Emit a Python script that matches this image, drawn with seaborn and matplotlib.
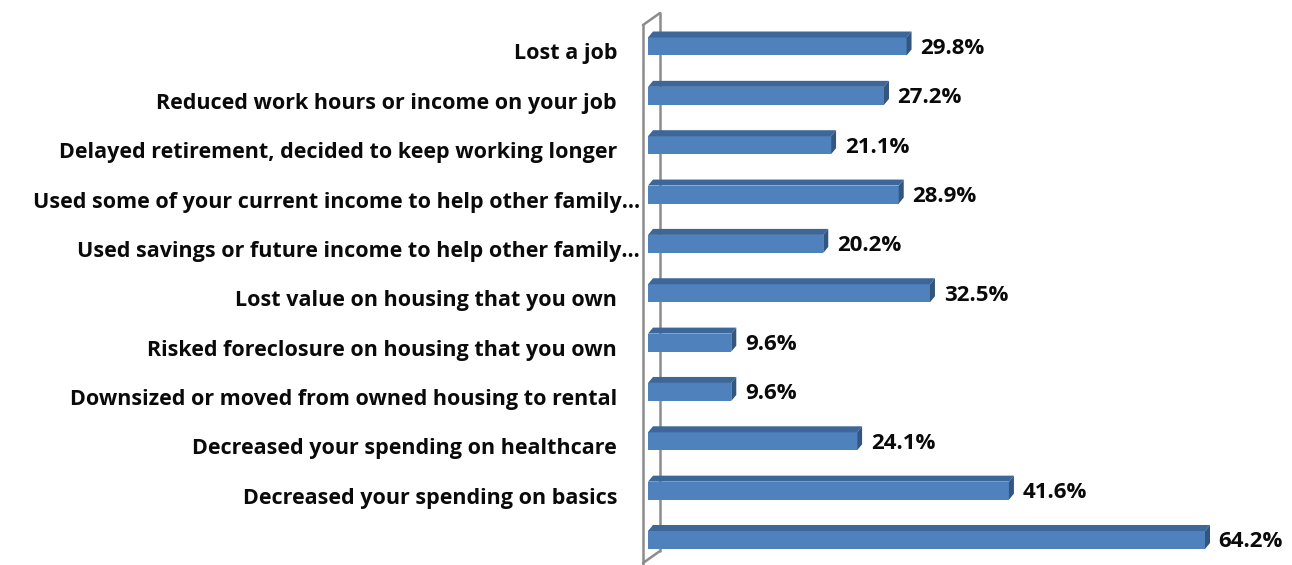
import matplotlib
matplotlib.use("Agg")
import matplotlib.pyplot as plt
import matplotlib.transforms as mtransforms
from matplotlib.patches import Polygon
from matplotlib.lines import Line2D
import seaborn as sns
import pandas as pd

# Survey responses: share of respondents reporting each financial impact
categories = [
    "Lost a job",
    "Reduced work hours or income on your job",
    "Delayed retirement, decided to keep working longer",
    "Used some of your current income to help other family\u2026",
    "Used savings or future income to help other family\u2026",
    "Lost value on housing that you own",
    "Risked foreclosure on housing that you own",
    "Downsized or moved from owned housing to rental",
    "Decreased your spending on healthcare",
    "Decreased your spending on basics",
    " ",
]
values = [29.8, 27.2, 21.1, 28.9, 20.2, 32.5, 9.6, 9.6, 24.1, 41.6, 64.2]

df = pd.DataFrame({"impact": categories, "pct": values})

sns.set_theme(style="white")
plt.rcParams["font.family"] = ["Open Sans", "DejaVu Sans"]

W, H = 1292, 565
fig = plt.figure(figsize=(W / 100, H / 100), dpi=100)

px_per_pct = 8.676
row_px = 49.35
first_row_px = 46.5
left_px = 648

ax = fig.add_axes([left_px / W, 0, (W - left_px) / W, 1])

front_color = "#4F81BD"
top_color = "#3D6699"
side_color = "#33567F"

bar_w = 18 / row_px
sns.barplot(data=df, x="pct", y="impact", orient="h", color=front_color,
            saturation=1, width=bar_w, ax=ax, zorder=3, linewidth=0)

ax.set_xlim(0, (W - left_px) / px_per_pct)
ax.set_ylim((H - first_row_px) / row_px, -first_row_px / row_px)

# depth of the extruded bars
dx = 5 / px_per_pct
dy = 6 / row_px
for i, v in enumerate(values):
    top = i - bar_w / 2
    bot = i + bar_w / 2
    ax.add_patch(Polygon([(0, top), (v, top), (v + dx, top - dy), (dx, top - dy)],
                         closed=True, facecolor=top_color, edgecolor="none", zorder=3))
    ax.add_patch(Polygon([(v, top), (v + dx, top - dy), (v + dx, bot - dy), (v, bot)],
                         closed=True, facecolor=side_color, edgecolor="none", zorder=3))
    ax.text(v + dx + 1.0, i + 0.04, f"{v:.1f}%", ha="left", va="center",
            fontsize=16, fontweight="bold", color="#0A0A0A", zorder=4)

# 3D side wall of the plot area
def fp(x, y):
    return (x / W, 1 - y / H)

wall = [((643, 25), (643, 566)), ((643, 25), (660, 13)), ((660, 13), (660, 551)),
        ((660, 551), (643, 563))]
for (a, b) in wall:
    (x0, y0), (x1, y1) = fp(*a), fp(*b)
    ax.add_line(Line2D([x0, x1], [y0, y1], transform=fig.transFigure, color="#8C8C8C",
                       linewidth=1.8, clip_on=False, zorder=1))

ax.set_xlabel("")
ax.set_ylabel("")
ax.set_xticks([])
for s in ax.spines.values():
    s.set_visible(False)
ax.tick_params(axis="y", length=0, pad=22.3)
for lab in ax.get_yticklabels():
    lab.set_fontsize(15.5)
    lab.set_fontweight("bold")
    lab.set_color("#0A0A0A")
    shift_x = 23 / 100 if lab.get_text().endswith("\u2026") else 0
    lab.set_transform(lab.get_transform() +
                      mtransforms.ScaledTranslation(shift_x, -5 / 100, fig.dpi_scale_trans))

fig.savefig("out.png", dpi=100)
